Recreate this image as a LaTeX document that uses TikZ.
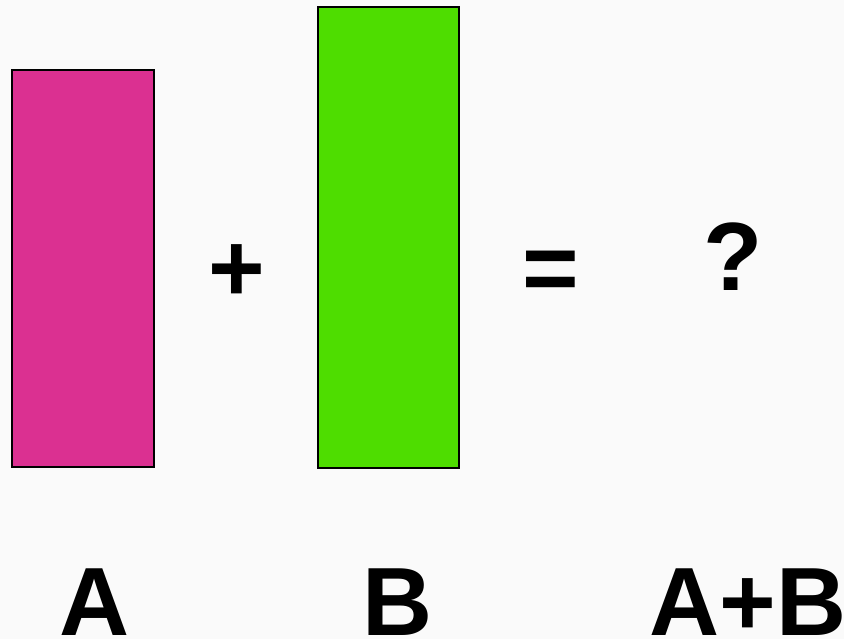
\documentclass[tikz,border=0pt]{standalone}
\usepackage{fontspec}
\setmainfont{Liberation Sans}
\definecolor{bg}{HTML}{FAFAFA}
\definecolor{pink}{HTML}{DB3091}
\definecolor{lime}{HTML}{4EDD00}
\begin{document}
\begin{tikzpicture}[x=1pt,y=1pt,bar/.style={draw=black,line width=2pt},big/.style={font=\fontsize{97}{97}\bfseries\selectfont,inner sep=0pt}]
\fill[bg] (0,0) rectangle (844,639);
\useasboundingbox (0,0) rectangle (844,639);
\node[bar,fill=pink,anchor=south west,minimum width=142pt,minimum height=397pt] (a) at (11,171) {};
\node[bar,fill=lime,anchor=south west,minimum width=141pt,minimum height=461pt] (b) at (317,170) {};
\node[big,anchor=base] (plus) at (237,337) {+};
\node[big,anchor=base] (eq) at (551,337) {=};
\node[big,anchor=base] (q) at (733,348) {?};
\node[big,anchor=base] (la) at (95,3) {A};
\node[big,anchor=base] (lb) at (398,3) {B};
\node[big,anchor=base] (lab) at (748,3) {A+B};
\end{tikzpicture}
\end{document}
